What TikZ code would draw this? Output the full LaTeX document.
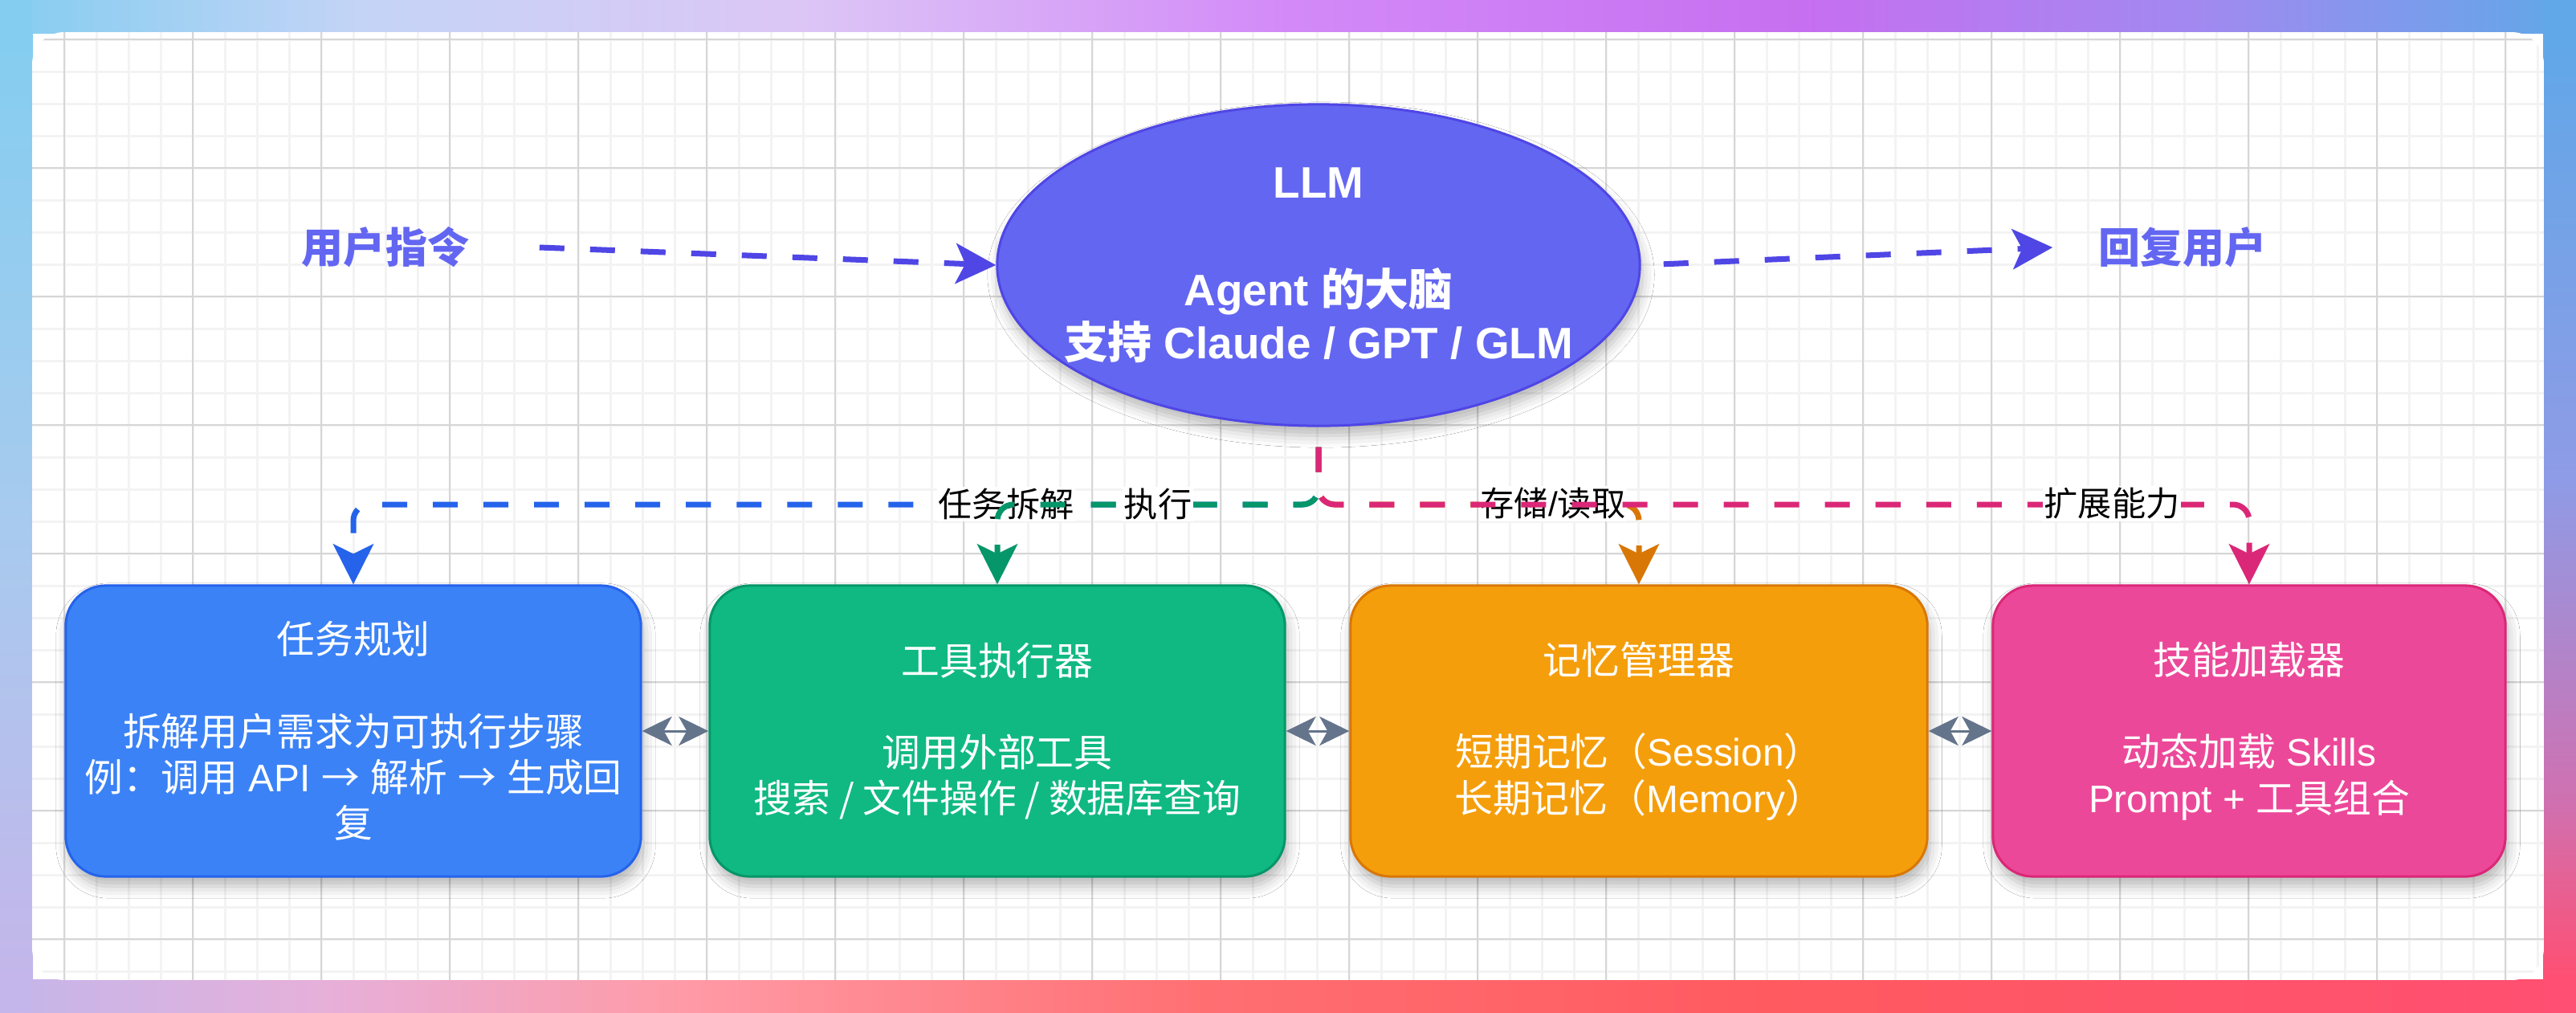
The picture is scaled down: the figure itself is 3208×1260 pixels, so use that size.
\documentclass[tikz,border=0pt]{standalone}
\usepackage{fontspec}
\setmainfont{Liberation Sans}
\newfontfamily\cjkfont{Noto Sans CJK SC}
\newcommand\zh[1]{{\cjkfont #1}}
\usetikzlibrary{arrows.meta,shapes.geometric,shadows.blur}
\definecolor{blueF}{HTML}{3B82F6}\definecolor{blueD}{HTML}{2563EB}
\definecolor{greenF}{HTML}{10B981}\definecolor{greenD}{HTML}{059669}
\definecolor{orangeF}{HTML}{F59E0B}\definecolor{orangeD}{HTML}{D97706}
\definecolor{pinkF}{HTML}{EC4899}\definecolor{pinkD}{HTML}{DB2777}
\definecolor{llmF}{HTML}{6366F1}\definecolor{llmD}{HTML}{4F46E5}
\definecolor{slate}{HTML}{64748B}
\definecolor{gridminor}{HTML}{F3F3F3}\definecolor{gridmajor}{HTML}{D6D6D6}
\definecolor{t0}{HTML}{84CDF0}\definecolor{t1}{HTML}{C4D4F6}\definecolor{t2}{HTML}{DCC6F6}
\definecolor{t3}{HTML}{D38AF8}\definecolor{t4}{HTML}{C66FF0}\definecolor{t5}{HTML}{A08AF0}\definecolor{t6}{HTML}{60A8E8}
\definecolor{b0}{HTML}{C4B6EA}\definecolor{b1}{HTML}{E6B0DA}\definecolor{b2}{HTML}{FF9AA6}
\definecolor{b3}{HTML}{FF6F72}\definecolor{b4}{HTML}{FF5A60}\definecolor{b5}{HTML}{FF4F72}
\definecolor{l1}{HTML}{A6CBEE}\definecolor{r1}{HTML}{8F9BE6}\definecolor{r2}{HTML}{D070B0}
\begin{document}
\begin{tikzpicture}[x=0.01cm,y=-0.01cm,
  minorl/.style={draw=gridminor,line width=0.03cm},
  majorl/.style={draw=gridmajor,line width=0.022cm},
  box/.style={rounded corners=0.5cm,line width=0.03cm,minimum height=3.62cm,minimum width=7.16cm,
    align=center,text=white,inner sep=0pt,font=\fontsize{13.6pt}{16.3pt}\selectfont,
    blur shadow={shadow xshift=0.03cm,shadow yshift=-0.12cm,shadow blur radius=0.15cm,shadow opacity=28}},
  llmshape/.style={ellipse,fill=llmF,draw=llmD,line width=0.03cm,minimum width=8cm,minimum height=4cm,inner sep=0pt,
    blur shadow={shadow xshift=0.03cm,shadow yshift=-0.12cm,shadow blur radius=0.15cm,shadow opacity=28}},
  llmtext/.style={align=center,text=white,inner sep=0pt,font=\fontsize{15.6pt}{18.8pt}\selectfont\bfseries},
  iotext/.style={text=llmF,inner sep=0pt,minimum height=0.6cm,font=\fontsize{14.8pt}{18pt}\selectfont\bfseries},
  conn/.style={line width=0.07cm,dash pattern=on 0.31cm off 0.32cm,rounded corners=0.2cm,shorten <=0.25cm,
    -{Stealth[length=0.5cm,width=0.5cm,inset=0.12cm]}},
  lbl/.style={fill=white,text=black,inner sep=0.02cm,font=\fontsize{12pt}{14pt}\selectfont},
  biarrow/.style={draw=slate,line width=0.03cm,
    {Stealth[length=0.37cm,width=0.36cm,inset=0.1cm]}-{Stealth[length=0.37cm,width=0.36cm,inset=0.1cm]}}
]
\useasboundingbox (0,0) rectangle (3208,1260);
% outer gradient frame
\shade[left color=t0,right color=t1] (0,0) rectangle (451,41);
\shade[left color=t1,right color=t2] (450,0) rectangle (1001,41);
\shade[left color=t2,right color=t3] (1000,0) rectangle (1601,41);
\shade[left color=t3,right color=t4] (1600,0) rectangle (2251,41);
\shade[left color=t4,right color=t5] (2250,0) rectangle (2751,41);
\shade[left color=t5,right color=t6] (2750,0) rectangle (3208,41);
\shade[left color=b0,right color=b1] (0,1219) rectangle (401,1260);
\shade[left color=b1,right color=b2] (400,1219) rectangle (851,1260);
\shade[left color=b2,right color=b3] (850,1219) rectangle (1501,1260);
\shade[left color=b3,right color=b4] (1500,1219) rectangle (2201,1260);
\shade[left color=b4,right color=b5] (2200,1219) rectangle (3208,1260);
\shade[top color=t0,bottom color=l1] (0,40) rectangle (41,631);
\shade[top color=l1,bottom color=b0] (0,630) rectangle (41,1220);
\shade[top color=t6,bottom color=r1] (3167,40) rectangle (3208,601);
\shade[top color=r1,bottom color=r2] (3167,600) rectangle (3208,1001);
\shade[top color=r2,bottom color=b5] (3167,1000) rectangle (3208,1220);
\fill[t0] (0,0) rectangle (40,40);
\fill[t6] (3168,0) rectangle (3208,40);
\fill[b0] (0,1220) rectangle (40,1260);
\fill[b5] (3168,1220) rectangle (3208,1260);
% card with grid
\begin{scope}
\clip[rounded corners=0.4cm] (40,40) rectangle (3168,1220);
\fill[white] (40,40) rectangle (3168,1220);
\foreach \x in {80,120,...,3160} \draw[minorl] (\x,40) -- (\x,1220);
\foreach \y in {49,89,...,1209} \draw[minorl] (40,\y) -- (3168,\y);
\foreach \x in {80,240,...,3120} \draw[majorl] (\x,40) -- (\x,1220);
\foreach \y in {49,209,...,1169} \draw[majorl] (40,\y) -- (3168,\y);
\end{scope}
% LLM
\node[llmshape] (llm) at (1642,330) {};
\node[llmtext] (llmt) at (1642,330) {LLM\\[0.68cm]Agent \zh{的大脑}\\\zh{支持} Claude / GPT / GLM};
% in / out
\node[iotext,minimum width=3.82cm] (uin) at (480,308) {\zh{用户指令}};
\node[iotext,minimum width=3.22cm] (uout) at (2718,308) {\zh{回复用户}};
\draw[conn,draw=llmD,shorten <=0cm] (uin.east) -- (llm.west);
\draw[conn,draw=llmD,shorten <=0.28cm] (llm.east) -- (uout.west);
% boxes
\node[box,fill=blueF,draw=blueD] (b1) at (440,910)
  {\zh{任务规划}\\[0.57cm]\zh{拆解用户需求为可执行步骤}\\\zh{例：调用} API \zh{→} \zh{解析} \zh{→} \zh{生成回}\\\zh{复}};
\node[box,fill=greenF,draw=greenD] (b2) at (1242,910)
  {\zh{工具执行器}\\[0.57cm]\zh{调用外部工具}\\\zh{搜索 / 文件操作 / 数据库查询}};
\node[box,fill=orangeF,draw=orangeD,minimum width=7.18cm] (b3) at (2041,910)
  {\zh{记忆管理器}\\[0.57cm]\zh{短期记忆（}Session\zh{）}\\\zh{长期记忆（}Memory\zh{）}};
\node[box,fill=pinkF,draw=pinkD,minimum width=6.38cm] (b4) at (2801,910)
  {\zh{技能加载器}\\[0.57cm]\zh{动态加载} Skills\\Prompt + \zh{工具组合}};
% connectors from LLM
\coordinate (hy) at (0,628);
\draw[conn,draw=blueD] (llm.south) -- (llm.south |- hy) -- (b1.north |- hy) -- (b1.north);
\node[lbl] (lb1) at (1253,627) {\zh{任务拆解}};
\draw[conn,draw=greenD] (llm.south) -- (llm.south |- hy) -- (b2.north |- hy) -- (b2.north);
\node[lbl] (lb2) at (1442,627) {\zh{执行}};
\draw[conn,draw=orangeD] (llm.south) -- (llm.south |- hy) -- (b3.north |- hy) -- (b3.north);
\node[lbl] (lb3) at (1934,627) {\zh{存储}/\zh{读取}};
\draw[conn,draw=pinkD] (llm.south) -- (llm.south |- hy) -- (b4.north |- hy) -- (b4.north);
\node[lbl] (lb4) at (2630,627) {\zh{扩展能力}};
% bidirectional
\draw[biarrow] (b1.east) -- (b2.west);
\draw[biarrow] (b2.east) -- (b3.west);
\draw[biarrow] (b3.east) -- (b4.west);
\end{tikzpicture}
\end{document}
